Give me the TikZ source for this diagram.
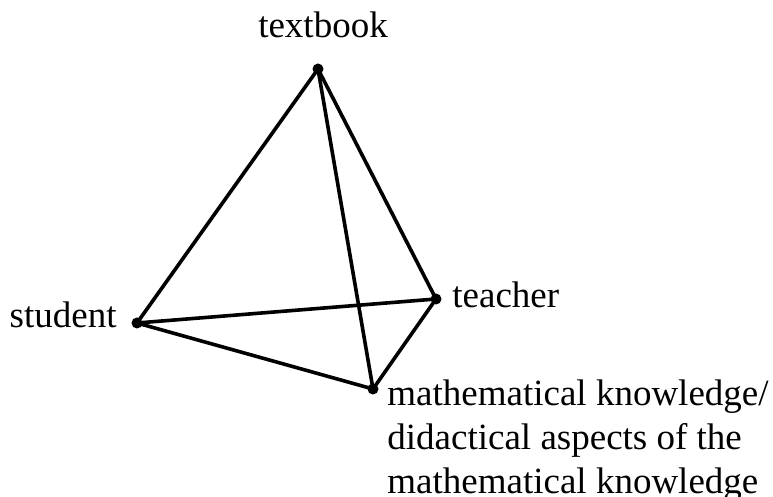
\documentclass[tikz,border=0pt]{standalone}
\usepackage{fontspec}
\setmainfont{Liberation Serif}
\begin{document}
\begin{tikzpicture}[x=0.5pt,y=-0.5pt,
  vertex/.style={circle,fill=black,inner sep=0pt,minimum size=5.5pt},
  edge/.style={line width=1.8pt,line join=round},
  lbl/.style={inner sep=0pt,font=\fontsize{18.5pt}{22pt}\selectfont}]
\useasboundingbox (0,0) rectangle (773,497);
\node[vertex] (tb) at (318,69) {};
\node[vertex] (st) at (137,323) {};
\node[vertex] (te) at (436,299) {};
\node[vertex] (mk) at (373,389) {};
\draw[edge] (tb.center) -- (st.center) -- (mk.center) -- (te.center) -- (tb.center);
\draw[edge] (tb.center) -- (mk.center);
\draw[edge] (st.center) -- (te.center);
\node[lbl,anchor=base] (ltb) at (323,38) {textbook};
\node[lbl,anchor=base east] (lst) at (117,328) {student};
\node[lbl,anchor=base west] (lte) at (452,308) {teacher};
\node[lbl,anchor=base west,align=left] (lmk) at (387,494) {mathematical knowledge/\\didactical aspects of the\\mathematical knowledge};
\end{tikzpicture}
\end{document}
